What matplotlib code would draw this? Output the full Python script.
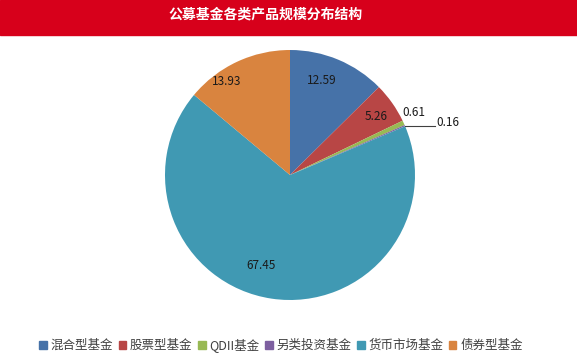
import matplotlib.pyplot as plt
from matplotlib.patches import Rectangle
import numpy as np

plt.rcParams['font.family'] = ['Noto Sans CJK SC', 'DejaVu Sans']

title = "公募基金各类产品规模分布结构"
categories = ["混合型基金", "股票型基金", "QDII基金", "另类投资基金", "货币市场基金", "债券型基金"]
values = [12.59, 5.26, 0.61, 0.16, 67.45, 13.93]
colors = ["#4672a8", "#b84645", "#98b954", "#7d5fa0", "#4099b3", "#d9843f"]

W, H = 577, 359
fig = plt.figure(figsize=(W / 100, H / 100), dpi=100)
ax = fig.add_axes([0, 0, 1, 1])

cx, cy, R = 290, H - 175, 125
wedges, _ = ax.pie(values, colors=colors, startangle=90, counterclock=False,
                   center=(cx, cy), radius=R, frame=True,
                   wedgeprops=dict(linewidth=0))
ax.set_xlim(0, W)
ax.set_ylim(0, H)
ax.set_aspect('equal')
ax.axis('off')

# red title bar
ax.add_patch(Rectangle((0, H - 35), W, 35, color="#d7001b", zorder=0))
ax.text(266, H - 15, title, color="white", fontsize=10, fontweight="bold",
        ha="center", va="center")

# label placement: (radius fraction, angle tweak in degrees)
lab_pos = [(0.8, 4), (0.83, -1), (1.11, 2), None, (0.76, -9), (0.9, 9)]
for w, v, p in zip(wedges, values, lab_pos):
    mid = np.deg2rad((w.theta1 + w.theta2) / 2)
    if p is None:
        # small slice: leader line out to the right
        ex, ey = cx + R * np.cos(mid), cy + R * np.sin(mid)
        ax.plot([ex, ex + 30], [ey, ey], color="#404040", lw=0.8)
        ax.text(ex + 32, ey + 3, f"{v:.2f}", fontsize=8.5, color="#1a1a1a",
                ha="left", va="center")
        continue
    r, tw = p
    a = mid + np.deg2rad(tw)
    ax.text(cx + r * R * np.cos(a), cy + r * R * np.sin(a), f"{v:.2f}",
            fontsize=8.5, color="#1a1a1a", ha="center", va="center")

handles = [Rectangle((0, 0), 1, 1, color=c) for c in colors]
fig.legend(handles, categories, ncol=6, loc="center",
           bbox_to_anchor=(281 / W, 1 - 345 / H), frameon=False,
           fontsize=9, handlelength=0.6, handleheight=0.6,
           handletextpad=0.3, columnspacing=0.45, labelcolor="#404040")

fig.savefig("out.png", dpi=100)
